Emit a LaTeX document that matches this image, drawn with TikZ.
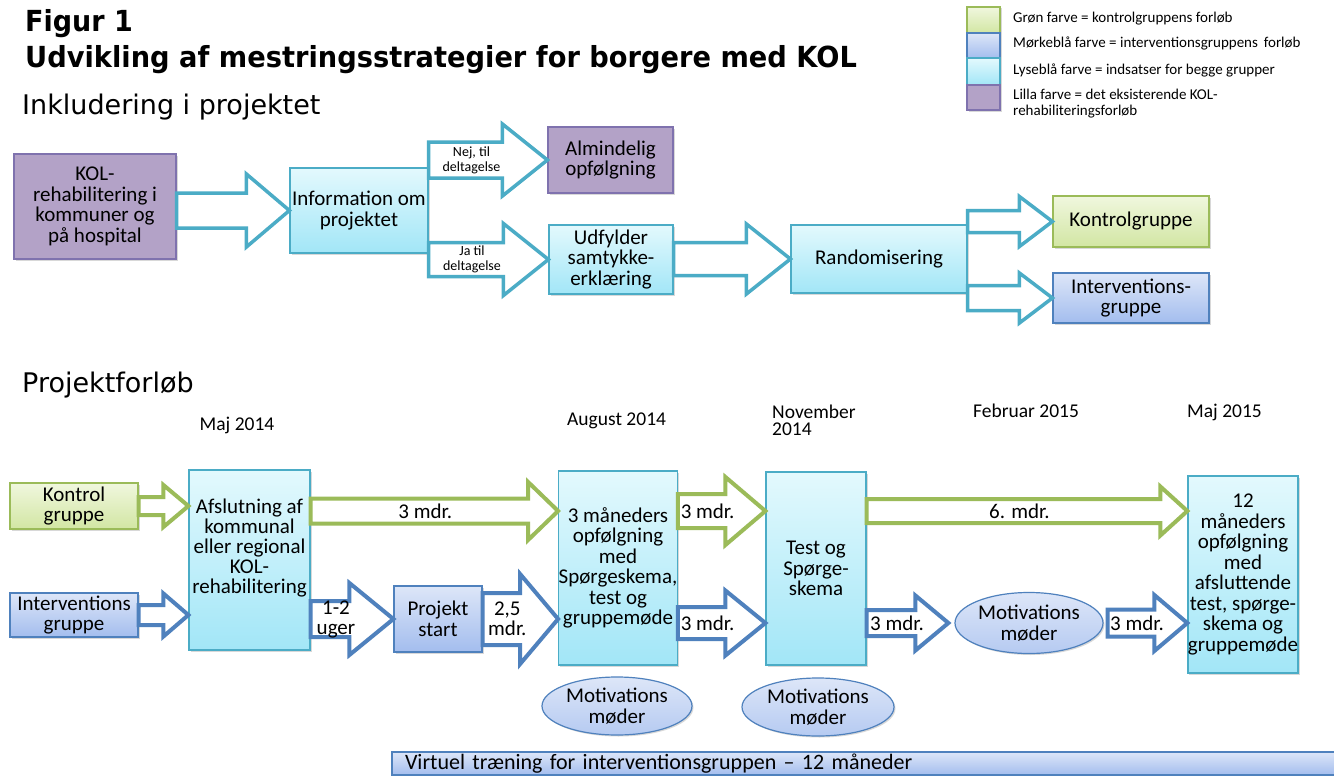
\documentclass[tikz,border=0pt]{standalone}
\usepackage{fontspec}
\setmainfont{Carlito}
\newfontfamily\overskrift{DejaVu Sans}
\usetikzlibrary{calc,shadows,shapes.geometric}

\definecolor{lillafyld}{HTML}{B3A2C7}
\definecolor{lillakant}{HTML}{7F72AE}
\definecolor{lystop}{HTML}{E3F9FD}
\definecolor{lysbund}{HTML}{A2E6F7}
\definecolor{lyskant}{HTML}{4BACC6}
\definecolor{groentop}{HTML}{F0F7DE}
\definecolor{groenbund}{HTML}{D2E6A3}
\definecolor{groenkant}{HTML}{9BBB59}
\definecolor{blaatop}{HTML}{DDE6F8}
\definecolor{blaabund}{HTML}{A3BDEE}
\definecolor{blaakant}{HTML}{4F81BD}

% hollow block arrow: [style]{name}{from}{tip}{half shaft}{half head}{head length}{label}
\newcommand{\blokpil}[8][]{%
  \draw[#1] let \p1=#3, \p2=#4 in
    (\x1,\y2+#5) -- (\x2-#7,\y2+#5) -- (\x2-#7,\y2+#6) -- (\x2,\y2)
    -- (\x2-#7,\y2-#6) -- (\x2-#7,\y2-#5) -- (\x1,\y2-#5) -- cycle
    node[piltekst] (#2) at (\x1/2+\x2/2-#7/2+6pt,\y2) {#8};}

\begin{document}
\begin{tikzpicture}[x=1pt, y=-1pt,
    every node/.style={inner sep=0pt},
    boks/.style={rectangle, draw, line width=1.2pt, align=center,
      font=\fontsize{21}{20.5}\selectfont,
      drop shadow={shadow xshift=1.5pt, shadow yshift=-1.5pt, opacity=0.3}},
    lilla/.style={boks, fill=lillafyld, draw=lillakant},
    lyseblaa/.style={boks, top color=lystop, bottom color=lysbund, draw=lyskant},
    groen/.style={boks, top color=groentop, bottom color=groenbund, draw=groenkant},
    moerkeblaa/.style={boks, top color=blaatop, bottom color=blaabund, draw=blaakant},
    moede/.style={boks, ellipse, top color=blaatop, bottom color=blaabund!80!white, draw=blaakant},
    pil/.style={fill=white, line join=miter},
    turkispil/.style={pil, draw=lyskant, line width=3.5pt},
    smaapil/.style={turkispil, piltekst/.append style={font=\fontsize{14}{15}\selectfont}},
    groenpil/.style={pil, draw=groenkant, line width=4pt},
    blaapil/.style={pil, draw=blaakant, line width=4pt},
    piltekst/.style={align=center, font=\fontsize{21}{20}\selectfont},
    dato/.style={font=\fontsize{19.5}{17}\selectfont},
    forklaring/.style={anchor=west, align=left, font=\fontsize{15}{16}\selectfont},
    overskrift/.style={anchor=base west, font=\overskrift\fontsize{27}{27}\selectfont}]
  \useasboundingbox[fill=white] (0,0) rectangle (1334,776);

  % Headings
  \node[anchor=base west, font=\overskrift\bfseries\fontsize{29}{29}\selectfont] (figur) at (25,32) {\scalebox{0.93}[1]{Figur 1}};
  \node[anchor=base west, font=\overskrift\bfseries\fontsize{29}{29}\selectfont] (titel) at (25,68) {\scalebox{0.94}[1]{Udvikling af mestringsstrategier for borgere med KOL}};
  \node[overskrift] (inkl) at (22,114) {Inkludering i projektet};
  \node[overskrift] (forloeb) at (22,392) {Projektforløb};

  % Legend
  \node[groen, minimum width=33pt, minimum height=26pt] (lg1) at (983.5,20) {};
  \node[moerkeblaa, minimum width=33pt, minimum height=25pt] (lg2) at (983.5,45.5) {};
  \node[lyseblaa, minimum width=33pt, minimum height=27pt] (lg3) at (983.5,71.5) {};
  \node[lilla, minimum width=33pt, minimum height=25pt] (lg4) at (983.5,97.5) {};
  \node[forklaring] (lt1) at (1013,19) {Grøn farve = kontrolgruppens forløb};
  \node[forklaring] (lt2) at (1013,43) {Mørkeblå farve = interventionsgruppens\, forløb};
  \node[forklaring] (lt3) at (1013,70) {Lyseblå farve = indsatser for begge grupper};
  \node[forklaring] (lt4) at (1013,104) {Lilla farve = det eksisterende KOL-\\rehabiliteringsforløb};

  % Inkludering i projektet
  \node[lilla, minimum width=162pt, minimum height=105pt] (kol) at (95,206.5) {KOL-\\rehabilitering i\\kommuner og\\på hospital};
  \node[lyseblaa, minimum width=138pt, minimum height=85pt] (info) at (359,210.5) {Information om\\projektet};
  \node[lilla, minimum width=125pt, minimum height=66pt] (alm) at (610.5,160) {Almindelig\\opfølgning};
  \node[lyseblaa, minimum width=124pt, minimum height=69pt] (udf) at (611,259.5) {Udfylder\\samtykke-\\erklæring};
  \node[lyseblaa, minimum width=176pt, minimum height=68pt] (rand) at (879,259) {Randomisering};
  \node[groen, minimum width=156pt, minimum height=51pt] (kgrp) at (1131,221.5) {Kontrolgruppe};
  \node[moerkeblaa, minimum width=156pt, minimum height=50pt] (igrp) at (1131,298) {Interventions-\\gruppe};

  \blokpil[turkispil]{p1}{(kol.east)}{(info.west)}{17.5pt}{36.5pt}{43pt}{}
  \blokpil[smaapil]{p2}{(info.east)}{(alm.west)}{18pt}{36pt}{45pt}{Nej, til\\deltagelse}
  \blokpil[smaapil]{p3}{(info.east)}{(udf.west)}{17pt}{36pt}{45pt}{Ja til\\deltagelse}
  \blokpil[turkispil]{p4}{(udf.east)}{(rand.west)}{16.5pt}{35pt}{44pt}{}
  \blokpil[turkispil]{p5}{(rand.east)}{(kgrp.west)}{11pt}{25pt}{33pt}{}
  \blokpil[turkispil]{p6}{(rand.east)}{(igrp.west)}{12.5pt}{25pt}{33pt}{}

  % Dates
  \node[dato, anchor=base] (maj14) at (237,430) {Maj 2014};
  \node[dato, anchor=base west] (aug14) at (567,425) {August 2014};
  \node[dato, anchor=north west, align=left] (nov14) at (772,405) {November\\2014};
  \node[dato, anchor=base west] (feb15) at (973,417) {Februar 2015};
  \node[dato, anchor=base west] (maj15) at (1187,417) {Maj 2015};

  % Projektforløb
  \coordinate (grow) at (0,511);
  \node[groen, minimum width=128pt, minimum height=46pt] (kontrol) at (74,506) {Kontrol\\gruppe};
  \node[moerkeblaa, minimum width=128pt, minimum height=44pt] (interv) at (74,615) {Interventions\\gruppe};
  \node[lyseblaa, minimum width=121pt, minimum height=180pt] (afsl) at (249.5,560) {};
  \node[piltekst] (afsltekst) at ([yshift=12pt]afsl.center) {Afslutning af\\kommunal\\eller regional\\KOL-\\rehabilitering};
  \node[moerkeblaa, minimum width=88pt, minimum height=66pt] (pstart) at (438,619) {Projekt\\start};
  \node[lyseblaa, minimum width=118pt, minimum height=194pt] (maaned3) at (618,568) {3 måneders\\opfølgning\\med\\Spørgeskema,\\test og\\gruppemøde};
  \node[lyseblaa, minimum width=100pt, minimum height=193pt] (test) at (816,568.5) {Test og\\Spørge-\\skema};
  \node[moede, minimum width=148pt, minimum height=61pt] (motiv3) at (1029,623) {Motivations\\møder};
  \node[lyseblaa, minimum width=110pt, minimum height=197pt] (maaned12) at (1243,574.5) {12\\måneders\\opfølgning\\med\\afsluttende\\test, spørge-\\skema og\\gruppemøde};
  \node[moede, minimum width=150pt, minimum height=58pt] (motiv1) at (617,706) {Motivations\\møder};
  \node[moede, minimum width=152pt, minimum height=58pt] (motiv2) at (818,707) {Motivations\\møder};
  \node[moerkeblaa, minimum height=23pt, text width=927pt, inner xsep=13pt, align=left, font=\fontsize{22}{22}\selectfont] (virtuel) at (868.5,763.5) {Virtuel træning for interventionsgruppen -- 12 måneder};

  \blokpil[groenpil]{q1}{(kontrol.east)}{(afsl.west |- kontrol)}{9pt}{21pt}{25pt}{}
  \blokpil[blaapil]{q2}{(interv.east)}{(afsl.west |- interv)}{10pt}{21.5pt}{25pt}{}
  \blokpil[groenpil]{q3}{(afsl.east)}{(maaned3.west |- grow)}{12.5pt}{29pt}{30pt}{3 mdr.}
  \blokpil[blaapil]{q4}{(afsl.east)}{(pstart.west)}{18pt}{36pt}{44pt}{1-2\\uger}
  \blokpil[blaapil]{q5}{(pstart.east)}{(maaned3.west |- pstart)}{26pt}{45pt}{38pt}{2,5\\mdr.}
  \blokpil[groenpil]{q6}{(maaned3.east)}{(test.west |- grow)}{17pt}{34pt}{40pt}{3 mdr.}
  \blokpil[blaapil]{q7}{(maaned3.east)}{(test.west |- motiv3)}{16pt}{32.5pt}{40pt}{3 mdr.}
  \blokpil[groenpil]{q8}{(test.east)}{(maaned12.west |- grow)}{12pt}{24.5pt}{27pt}{6. mdr.}
  \blokpil[blaapil]{q9}{(test.east)}{([xshift=-6pt]motiv3.west)}{13pt}{27.5pt}{33pt}{3 mdr.}
  \blokpil[blaapil]{q10}{([xshift=4pt]motiv3.east)}{(maaned12.west |- motiv3)}{13.5pt}{28pt}{33pt}{3 mdr.}
\end{tikzpicture}
\end{document}
